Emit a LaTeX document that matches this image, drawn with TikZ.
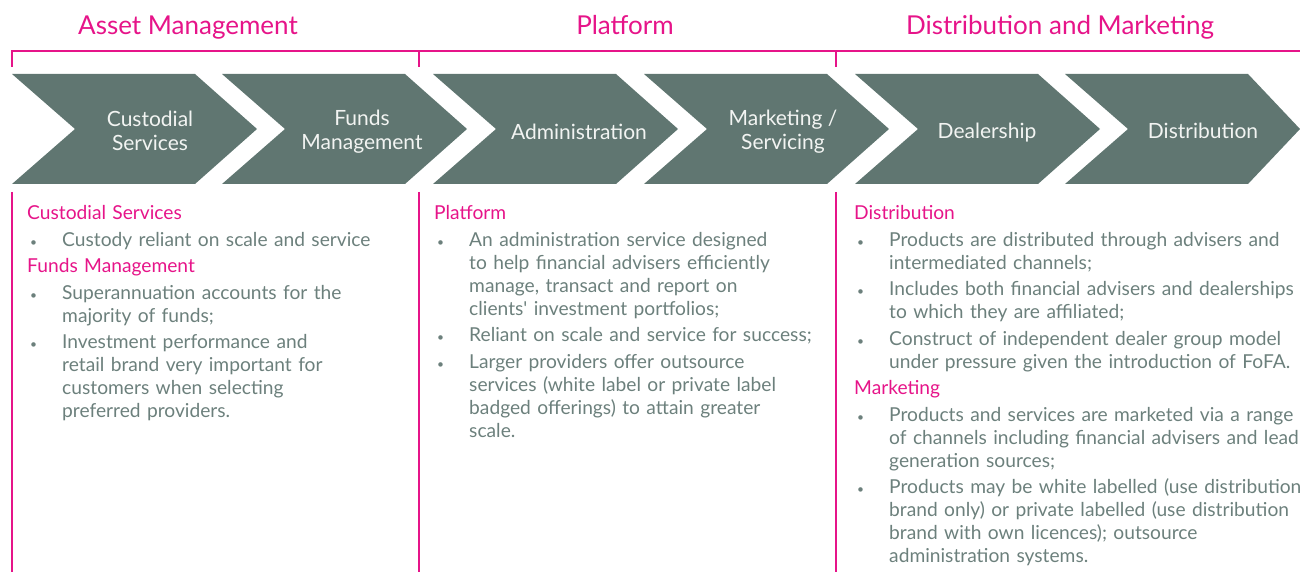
\documentclass[tikz,border=0pt]{standalone}
\usepackage{fontspec}
\setmainfont{Lato}
\usepackage{xcolor}
\usepackage{tikz}
\usetikzlibrary{positioning,calc}
\definecolor{accent}{RGB}{230,20,137}
\definecolor{slate}{RGB}{96,118,113}
\definecolor{bodygrey}{RGB}{108,128,124}
\definecolor{labelwhite}{RGB}{242,244,242}

\newcommand{\brk}{\hfil\break}
\newcommand{\colhead}[1]{\par\noindent\textcolor{accent}{#1}\par}
\newcommand{\bitem}[1]{\par\hangindent=35pt\hangafter=1\noindent\makebox[35pt][l]{\hspace{3pt}{\fontsize{12}{12}\selectfont\textbullet}}#1\par}

\begin{document}
\begin{tikzpicture}[
    x=1pt, y=-1pt,
    chev/.style={fill=slate},
    chevlabel/.style={text=labelwhite, align=center, font=\fontsize{21}{24}\selectfont},
    title/.style={text=accent, anchor=base, font=\fontsize{26}{30}\selectfont},
    rule/.style={draw=accent, line width=2pt},
    col/.style={anchor=north west, inner sep=0pt, text=bodygrey, text width=470pt,
        font=\fontsize{19.2}{23}\selectfont\setlength{\parskip}{3.5pt}\raggedright}
]
    \useasboundingbox (0,0) rectangle (1300,572);

    % section titles and bracket
    \node[title] (asset) at (188,35) {Asset Management};
    \node[title] (plat) at (625,35) {Platform};
    \node[title] (distmark) at (1060,35) {Distribution and Marketing};
    \draw[rule] (12,67) -- (12,51) -- (1300,51);
    \draw[rule] (419,67) -- (419,51);
    \draw[rule] (836,67) -- (836,51);
    \draw[rule] (12,192) -- (12,572);
    \draw[rule] (419,192) -- (419,572);
    \draw[rule] (836,192) -- (836,572);

    % chevrons
    \fill[chev] (12,74) -- ++(183,0) -- ++(62,55) -- ++(-62,55) -- ++(-183,0) -- ++(63,-55) -- cycle;
    \fill[chev] (222,74) -- ++(183,0) -- ++(62,55) -- ++(-62,55) -- ++(-183,0) -- ++(63,-55) -- cycle;
    \fill[chev] (433,74) -- ++(183,0) -- ++(62,55) -- ++(-62,55) -- ++(-183,0) -- ++(63,-55) -- cycle;
    \fill[chev] (644,74) -- ++(183,0) -- ++(62,55) -- ++(-62,55) -- ++(-183,0) -- ++(63,-55) -- cycle;
    \fill[chev] (855,74) -- ++(183,0) -- ++(62,55) -- ++(-62,55) -- ++(-183,0) -- ++(63,-55) -- cycle;
    \fill[chev] (1065,74) -- ++(183,0) -- (1300,129) -- (1248,184) -- ++(-183,0) -- ++(63,-55) -- cycle;

    \node[chevlabel] (custodial) at (150,131) {Custodial\\Services};
    \node[chevlabel] (funds) at (362,132) {Funds\\Management};
    \node[chevlabel] (admin) at (579,132) {Administration};
    \node[chevlabel] (servicing) at (783,132) {Marketing /\\Servicing};
    \node[chevlabel] (dealer) at (987,133) {Dealership};
    \node[chevlabel] (distrib) at (1203,131) {Distribution};

    % column texts
    \node[col] (assettext) at (27,193) {%
        \colhead{Custodial Services}
        \bitem{Custody reliant on scale and service}
        \colhead{Funds Management}
        \bitem{Superannuation accounts for the\brk majority of funds;}
        \bitem{Investment performance and\brk retail brand very important for\brk customers when selecting\brk preferred providers.}};
    \node[col] (plattext) at (434,193) {%
        \colhead{Platform}
        \bitem{An administration service designed\brk to help financial advisers efficiently\brk manage, transact and report on\brk clients\textquotesingle{} investment portfolios;}
        \bitem{Reliant on scale and service for success;}
        \bitem{Larger providers offer outsource\brk services (white label or private label\brk badged offerings) to attain greater\brk scale.}};
    \node[col] (disttext) at (854,193) {%
        \colhead{Distribution}
        \bitem{Products are distributed through advisers and\brk intermediated channels;}
        \bitem{Includes both financial advisers and dealerships\brk to which they are affiliated;}
        \bitem{Construct of independent dealer group model\brk under pressure given the introduction of FoFA.}
        \colhead{Marketing}
        \bitem{Products and services are marketed via a range\brk of channels including financial advisers and lead\brk generation sources;}
        \bitem{Products may be white labelled (use distribution\brk brand only) or private labelled (use distribution\brk brand with own licences); outsource\brk administration systems.}};
\end{tikzpicture}
\end{document}
